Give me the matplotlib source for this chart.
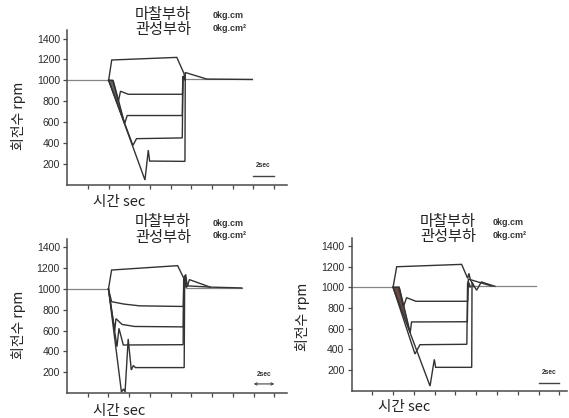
import matplotlib
matplotlib.use("Agg")
import matplotlib.pyplot as plt

W, H = 569, 418
KR = ['Noto Sans CJK KR', 'DejaVu Sans']

# ---------------- data (time in sec, speed in rpm) ----------------
y_ticks = [200, 400, 600, 800, 1000, 1200, 1400]
x_ticks = [2, 4, 6, 8, 10, 12, 14, 16, 18, 20]
friction_label = "마찰부하"
inertia_label = "관성부하"
friction_value = "0kg.cm"
inertia_value = "0kg.cm²"
x_label = "시간 sec"
y_label = "회전수 rpm"
scale_label = "2sec"

# Panel A (top-left)
a_base_t = [[0, 4.0], [11.4, 17.9]]
a_base_r = [[1000, 1000], [1008, 1008]]
a_up_t = [4.0, 4.3, 10.6, 11.3, 11.38]
a_up_r = [1000, 1195, 1220, 1065, 1005]
a_870_t = [4.0, 4.4, 4.95, 5.15, 5.9, 11.15, 11.2, 11.4]
a_870_r = [1000, 1000, 800, 895, 866, 866, 1040, 1008]
a_660_t = [4.0, 4.45, 5.55, 5.8, 11.13, 11.18, 11.4]
a_660_r = [1000, 995, 585, 662, 662, 1030, 1008]
a_450_t = [4.0, 6.35, 6.7, 11.13, 11.2, 11.4]
a_450_r = [1000, 375, 440, 447, 1040, 1008]
a_220_t = [4.0, 7.52, 7.84, 7.97, 11.39, 11.42, 13.5, 17.9]
a_220_r = [1000, 43, 330, 225, 222, 1075, 1012, 1008]
a_wedge_t = [4.0, 4.4, 5.55]
a_wedge_r = [1000, 1000, 585]

# Panel B (bottom-left)
b_base_t = [[0, 4.0], [11.5, 16.85]]
b_base_r = [[1000, 1000], [1010, 1010]]
b_up_t = [4.0, 4.3, 10.67, 11.3, 11.45, 11.6, 11.8, 13.8, 16.85]
b_up_r = [1000, 1182, 1224, 1095, 1140, 1020, 1090, 1018, 1010]
b_840_t = [4.0, 4.3, 5.5, 7.0, 11.22, 11.27, 11.5]
b_840_r = [1000, 878, 855, 838, 832, 1100, 1020]
b_630_t = [4.0, 4.6, 4.72, 5.3, 6.5, 11.22, 11.27, 11.5]
b_630_r = [1000, 600, 715, 660, 640, 636, 1120, 1020]
b_460_t = [4.0, 4.82, 5.01, 5.43, 11.2, 11.25, 11.5]
b_460_r = [1000, 446, 622, 462, 465, 1090, 1020]
b_250_t = [4.0, 5.25, 5.45, 5.6, 5.9, 6.2, 6.4, 6.6, 11.3, 11.35, 11.6, 13.8]
b_250_r = [1000, 10, 40, 10, 520, 222, 265, 245, 245, 1130, 1030, 1018]

# Panel C (bottom-right)
c_base_t = [[0, 4.0], [11.5, 17.8]]
c_base_r = [[1000, 1000], [1008, 1008]]
c_up_t = [4.0, 4.35, 10.6, 11.18, 11.3, 11.45, 12.04, 12.5, 13.8]
c_up_r = [1000, 1199, 1222, 1087, 1135, 1070, 972, 1052, 1010]
c_870_t = [4.0, 4.55, 5.0, 5.3, 6.2, 11.18, 11.25, 13.5]
c_870_r = [1000, 1000, 812, 900, 865, 865, 1080, 1012]
c_660_t = [4.0, 4.6, 5.65, 5.78, 11.15, 11.22, 11.45]
c_660_r = [1000, 1000, 560, 665, 667, 1060, 1005]
c_450_t = [4.0, 6.11, 6.59, 11.1, 11.17, 11.35]
c_450_r = [1000, 355, 445, 449, 1040, 1005]
c_220_t = [4.0, 7.56, 7.97, 8.1, 11.57, 11.6, 11.8]
c_220_r = [1000, 45, 303, 226, 226, 1050, 1005]
c_wedge_t = [4.0, 4.6, 5.65]
c_wedge_r = [1000, 1000, 560]

scale_t = [18, 20]

# ---------------- figure ----------------
fig = plt.figure(figsize=(W / 100, H / 100), dpi=100)
fig.patch.set_facecolor('white')

LINE = '#333333'
BASE = '#858585'


def px(x, y):
    return x / W, 1 - y / H


def make_axes(left_px, top_px, bottom_px, x0_px, px_per_s, right_px):
    ax = fig.add_axes([left_px / W, 1 - bottom_px / H,
                       (right_px - left_px) / W, (bottom_px - top_px) / H])
    ax.set_xlim(0, (right_px - x0_px) / px_per_s)
    ax.set_ylim(0, 1480)
    for s in ['top', 'right']:
        ax.spines[s].set_visible(False)
    for s in ['left', 'bottom']:
        ax.spines[s].set_color('#4a4a4a')
        ax.spines[s].set_linewidth(1.1)
    ax.set_xticks(x_ticks)
    ax.set_xticklabels([])
    ax.set_yticks(y_ticks)
    ax.set_yticklabels([str(v) for v in y_ticks], fontfamily='Liberation Sans',
                       fontsize=7.5, color='#2a2a2a')
    ax.tick_params(axis='both', direction='out', length=2.6, width=0.9,
                   color='#4a4a4a', pad=2.5)
    ax.set_facecolor('none')
    return ax


def draw_panel(ax, bases_t, bases_r, curves, wedge=None, wedge_color='#6e6666',
               scale_y=(80, 178), arrows=False):
    for bt, br in zip(bases_t, bases_r):
        ax.plot(bt, br, color=BASE, lw=0.9, solid_joinstyle='miter')
    if wedge is not None:
        ax.fill(wedge[0], wedge[1], color=wedge_color, lw=0.6, ec=wedge_color)
    for t, r in curves:
        ax.plot(t, r, color=LINE, lw=1.0, solid_joinstyle='miter')
    if arrows:
        ax.annotate('', xy=(scale_t[1], scale_y[0]), xytext=(scale_t[0], scale_y[0]),
                    arrowprops=dict(arrowstyle='<->', color='#444444', lw=0.8,
                                    mutation_scale=4, shrinkA=0, shrinkB=0))
    else:
        ax.plot(scale_t, [scale_y[0]] * 2, color='#444444', lw=1.0)
    ax.text(sum(scale_t) / 2, scale_y[1], scale_label, fontsize=4.8,
            ha='center', va='center', color='#333333', fontweight='bold',
            fontfamily='Liberation Sans')


def labels(kx, ky1, ky2, vx, xl_x, xl_y, yl_x, yl_y):
    cy = (ky1 + ky2) / 2
    fig.text(*px(kx, cy), friction_label + "\n" + inertia_label, fontfamily=KR,
             fontsize=11, fontweight='medium', ha='center', va='center',
             multialignment='center', linespacing=0.88, color='#222222')
    fig.text(*px(vx, cy), friction_value + "\n" + inertia_value,
             fontfamily='Liberation Sans', fontsize=6.5, fontweight='bold',
             ha='left', va='center', linespacing=1.55, color='#333333')
    fig.text(*px(xl_x, xl_y), x_label, fontfamily=KR, fontsize=10.5,
             fontweight='medium', ha='left', va='center', color='#222222')
    fig.text(*px(yl_x, yl_y), y_label, fontfamily=KR, fontsize=10, rotation=90,
             fontweight='medium', ha='center', va='center', color='#222222')


# Panel A
axA = make_axes(67.3, 30.3, 184.5, 67.3, 10.33, 287)
draw_panel(axA, a_base_t, a_base_r,
           [(a_up_t, a_up_r), (a_870_t, a_870_r), (a_660_t, a_660_r),
            (a_450_t, a_450_r), (a_220_t, a_220_r)],
           wedge=(a_wedge_t, a_wedge_r), wedge_color='#6a6464', scale_y=(82, 178))
labels(163, 15, 28.5, 213, 93, 202, 18, 116)

# Panel B
axB = make_axes(67, 239, 393.1, 67, 10.37, 287)
draw_panel(axB, b_base_t, b_base_r,
           [(b_up_t, b_up_r), (b_840_t, b_840_r), (b_630_t, b_630_r),
            (b_460_t, b_460_r), (b_250_t, b_250_r)],
           scale_y=(88, 183), arrows=True)
labels(163, 222, 237, 213, 93, 411.5, 18, 325)

# Panel C
axC = make_axes(351.5, 237.7, 390.7, 351.5, 10.39, 567)
draw_panel(axC, c_base_t, c_base_r,
           [(c_up_t, c_up_r), (c_870_t, c_870_r), (c_660_t, c_660_r),
            (c_450_t, c_450_r), (c_220_t, c_220_r)],
           wedge=(c_wedge_t, c_wedge_r), wedge_color='#6b4a46', scale_y=(77, 174))
labels(448, 222, 235.5, 493, 378, 406.5, 303, 317)

fig.savefig('out.png', dpi=100, facecolor='white')
